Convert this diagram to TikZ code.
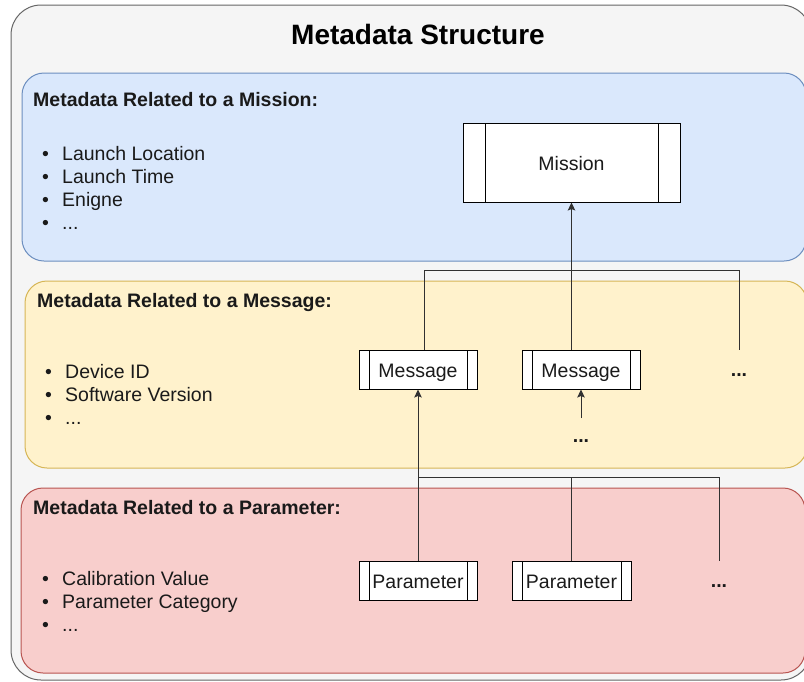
\documentclass[tikz,border=0pt]{standalone}
\usepackage{fontspec}
\setmainfont{Liberation Sans}
\usetikzlibrary{arrows.meta}
\definecolor{outerfill}{HTML}{F5F5F5}
\definecolor{outerline}{HTML}{666666}
\definecolor{bluefill}{HTML}{DAE8FC}
\definecolor{blueline}{HTML}{6C8EBF}
\definecolor{yellowfill}{HTML}{FFF2CC}
\definecolor{yellowline}{HTML}{D6B656}
\definecolor{redfill}{HTML}{F8CECC}
\definecolor{redline}{HTML}{B85450}
\definecolor{ink}{HTML}{1A1A1A}
\newcommand{\bul}[1]{\makebox[20pt][l]{•}#1}
\tikzset{
  panel/.style={draw, line width=1pt, rounded corners=22pt},
  heading/.style={anchor=west, inner sep=0pt, font=\fontsize{19.5}{23}\selectfont\bfseries, text=ink},
  bullets/.style={anchor=north west, inner sep=0pt, align=left, font=\fontsize{19.5}{23}\selectfont, text=ink},
  procbox/.style={draw=black, fill=white, line width=1pt, inner sep=0pt,
    text height=18pt, text depth=3pt,
    font=\fontsize{19.5}{23}\selectfont, text=ink,
    path picture={
      \draw[line width=1pt] ([xshift=#1]path picture bounding box.north west) -- ([xshift=#1]path picture bounding box.south west);
      \draw[line width=1pt] ([xshift=-#1]path picture bounding box.north east) -- ([xshift=-#1]path picture bounding box.south east);
    }},
  wire/.style={draw=ink!90, line width=1pt},
  arr/.style={wire, -{Stealth[length=8pt, width=7.5pt, inset=1.5pt]}},
  dots/.style={inner sep=0pt, font=\fontsize{19.5}{23}\selectfont\bfseries, text=ink}
}
\begin{document}
\begin{tikzpicture}[x=1pt, y=-1pt]
\useasboundingbox (0,0) rectangle (804,681);
\clip (0,0) rectangle (804,681);

% outer container and title
\draw[fill=outerfill, draw=outerline, line width=1pt, rounded corners=30pt] (11,5) rectangle (811,680);
\node[font=\fontsize{28}{31}\selectfont\bfseries, text=black] (title) at (418,34) {Metadata Structure};

% three layers
\draw[panel, fill=bluefill, draw=blueline] (22,73) rectangle (806,261);
\draw[panel, fill=yellowfill, draw=yellowline] (25,281) rectangle (807,468);
\draw[panel, fill=redfill, draw=redline] (21,488) rectangle (805,673);

% layer headings
\node[heading] (hmission) at (33,100) {Metadata Related to a Mission:};
\node[heading] (hmessage) at (37,302) {Metadata Related to a Message:};
\node[heading] (hparam) at (33,508) {Metadata Related to a Parameter:};

% attribute lists
\node[bullets] (lmission) at (42,146) {\bul{Launch Location}\\\bul{Launch Time}\\\bul{Enigne}\\\bul{...}};
\node[bullets] (lmessage) at (45,364) {\bul{Device ID}\\\bul{Software Version}\\\bul{...}};
\node[bullets] (lparam) at (42,571) {\bul{Calibration Value}\\\bul{Parameter Category}\\\bul{...}};

% entity boxes
\node[procbox=22pt, minimum width=217pt, minimum height=79pt] (mission) at (571.5,162.5) {Mission};
\node[procbox=10pt, minimum width=118pt, minimum height=39pt] (msg1) at (418,369.5) {Message};
\node[procbox=10pt, minimum width=118pt, minimum height=39pt] (msg2) at (581,369.5) {Message};
\node[procbox=10pt, minimum width=118pt, minimum height=39pt] (par1) at (418,580.5) {Parameter};
\node[procbox=10pt, minimum width=119pt, minimum height=39pt] (par2) at (571.5,580.5) {Parameter};

\node[dots] (msgmore) at (739,375) {...};
\node[dots] (msgbelow) at (581,441) {...};
\node[dots] (parmore) at (719,586) {...};

% messages to mission
\coordinate (m3end) at (739,350);
\coordinate (stub) at (581,418);
\draw[arr] (mission.south |- msg2.north) -- (mission.south);
\draw[wire] ([xshift=6pt]msg1.north) -- ++(0,-79) -| (m3end);
\draw[arr] (stub) -- (msg2.south);

% parameters to message
\coordinate (pbus) at (418,477);
\coordinate (pend) at (719,561);
\draw[arr] (par1.north) -- (msg1.south);
\draw[wire] (pbus) -- (pend |- pbus) -- (pend);
\draw[wire] (par2.north |- pbus) -- (par2.north);
\end{tikzpicture}
\end{document}
